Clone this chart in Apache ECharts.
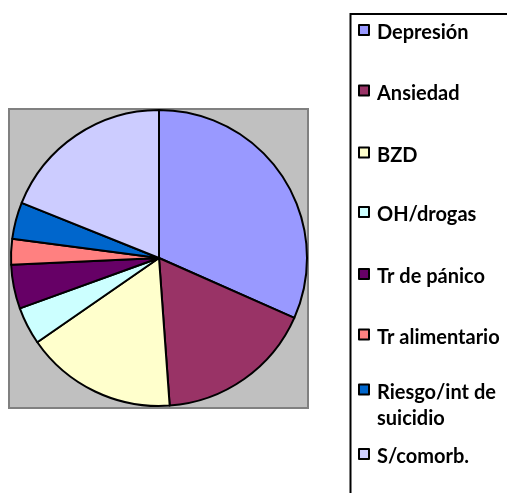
<!DOCTYPE html>
<html>
<head>
<meta charset="utf-8">
<script src="https://cdn.jsdelivr.net/npm/echarts@6/dist/echarts.min.js"></script>
<style>
html,body{margin:0;padding:0;background:#fff;}
#c{width:507px;height:493px;}
</style>
</head>
<body>
<div id="c"></div>
<script>
const categories = ['Depresión','Ansiedad','BZD','OH/drogas','Tr de pánico','Tr alimentario','Riesgo/int de suicidio','S/comorb.'];
const values = [31.6, 17.2, 16.5, 4.1, 4.8, 2.8, 4.0, 18.9];
const colors = ['#9999FF','#993366','#FFFFCC','#CCFFFF','#660066','#FF8080','#0066CC','#CCCCFF'];
const legendLabels = ['Depresión','Ansiedad','BZD','OH/drogas','Tr de pánico','Tr alimentario','Riesgo/int de\nsuicidio','S/comorb.'];

const iconCenters = [33, 93.5, 155.5, 215, 277, 337.5, 398.5, 457];
const FONT = 'Lato';
const LH = 26;
const PADT = 6;

const chart = echarts.init(document.getElementById('c'), null, {renderer:'canvas'});
chart.setOption({
  animation:false,
  graphic:[
    {type:'rect', shape:{x:9, y:109, width:299, height:299}, style:{fill:'#C0C0C0', stroke:'#808080', lineWidth:2}, z:-10},
    {type:'rect', shape:{x:350.5, y:14, width:170, height:500}, style:{fill:'none', stroke:'#000', lineWidth:2}, z:-10}
  ],
  legend: categories.map((n,i)=>{
    const lines = legendLabels[i].split('\n');
    const multi = lines.length > 1;
    const txt = (multi ? ['{a| }'] : []).concat(lines.map(l => '{a|' + l + '}')).join('\n');
    const nLines = multi ? lines.length + 1 : 1;
    const H = nLines*(LH+PADT);
    return {
      orient:'vertical', left:358, top: iconCenters[i] - H/2, padding:0,
      data:[n], icon:'rect', itemWidth:10, itemHeight:10,
      itemStyle:{borderColor:'#000', borderWidth:2},
      selectedMode:false,
      formatter: () => txt,
      textStyle:{
        fontFamily:FONT, fontWeight:'bold', fontSize:20, color:'#000',
        rich:{a:{fontFamily:FONT, fontWeight:'bold', fontSize:20, color:'#000', lineHeight:LH, padding:[PADT,0,0,3]}}
      }
    };
  }),
  series:[{
    type:'pie',
    center:[159,258], radius:148,
    startAngle:90, clockwise:true,
    label:{show:false}, labelLine:{show:false},
    emphasis:{disabled:true},
    itemStyle:{borderColor:'#000', borderWidth:2},
    data: categories.map((n,i)=>({name:n, value:values[i], itemStyle:{color:colors[i]}}))
  }]
});
</script>
</body>
</html>
